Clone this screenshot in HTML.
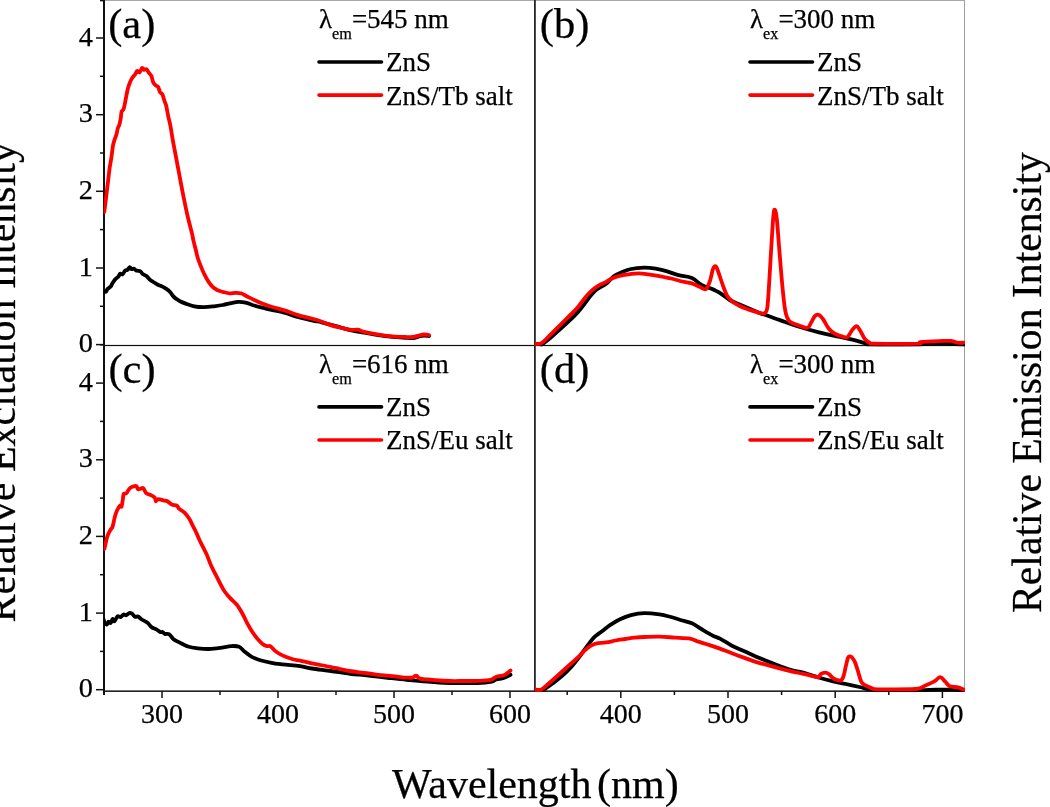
<!DOCTYPE html>
<html><head><meta charset="utf-8"><title>ZnS spectra</title>
<style>html,body{margin:0;padding:0;background:#fff;width:1050px;height:807px;overflow:hidden}</style>
</head><body>
<svg width="1050" height="807" viewBox="0 0 1050 807" style="display:block;will-change:transform"><rect width="1050" height="807" fill="#fff"/><defs><clipPath id="ca"><rect x="103.6" y="0" width="430.6" height="346.5"/></clipPath><clipPath id="cb"><rect x="534.8" y="0" width="430.2" height="346.5"/></clipPath><clipPath id="cc"><rect x="103.6" y="345" width="430.6" height="347"/></clipPath><clipPath id="cd"><rect x="534.8" y="345" width="430.2" height="347"/></clipPath></defs><rect x="104" y="0" width="861" height="1" fill="#a8a8a8"/><rect x="964" y="0" width="1" height="691" fill="#a0a0a0"/><rect x="104" y="344.9" width="861" height="1.2" fill="#111"/><rect x="104" y="690.4" width="861" height="1.5" fill="#111"/><rect x="103" y="0" width="2" height="695" fill="#111"/><rect x="534" y="0" width="1.8" height="691.5" fill="#262626"/><g clip-path="url(#ca)" fill="none" stroke-width="3.8" stroke-linejoin="round" stroke-linecap="round"><path d="M103.8,291.8 C103.9,291.8 104.2,291.6 104.6,291.6 C105.0,291.6 105.6,292.1 106.1,291.6 C106.6,291.2 106.8,289.7 107.6,288.9 C108.4,288.1 109.9,287.5 110.7,286.6 C111.5,285.7 111.5,284.8 112.2,283.6 C113.0,282.4 114.2,280.5 115.2,279.4 C116.2,278.2 117.5,277.6 118.3,276.7 C119.1,275.8 119.5,274.1 120.2,273.7 C120.9,273.3 121.7,274.9 122.5,274.4 C123.3,273.9 124.3,271.4 125.1,270.6 C125.9,269.9 126.6,270.5 127.4,269.9 C128.2,269.3 129.0,267.3 129.7,267.2 C130.4,267.1 130.9,268.9 131.6,269.1 C132.3,269.4 133.1,268.4 133.9,268.7 C134.7,268.9 135.5,270.2 136.6,270.6 C137.7,271.1 139.4,270.8 140.4,271.4 C141.4,272.0 141.7,273.2 142.7,274.0 C143.7,274.8 145.4,275.1 146.5,276.0 C147.6,276.9 148.4,278.4 149.5,279.4 C150.6,280.4 151.9,281.1 153.3,282.0 C154.7,282.9 156.4,283.9 157.9,284.7 C159.4,285.5 161.1,285.9 162.5,286.6 C163.9,287.3 165.0,288.0 166.3,288.9 C167.6,289.8 169.0,290.8 170.1,292.0 C171.2,293.2 172.1,295.0 173.1,296.1 C174.1,297.2 175.0,298.0 176.2,298.8 C177.3,299.6 178.4,300.4 180.0,301.2 C181.6,302.0 183.3,302.7 185.7,303.6 C188.1,304.5 191.3,305.8 194.3,306.4 C197.3,307.0 200.6,307.2 203.8,307.2 C207.0,307.2 210.1,306.8 213.3,306.4 C216.5,306.0 219.9,305.6 222.9,305.0 C225.9,304.4 228.9,303.6 231.4,303.1 C233.9,302.6 235.7,302.0 238.1,301.9 C240.5,301.8 243.3,302.1 245.7,302.6 C248.1,303.1 249.8,304.2 252.4,305.0 C255.0,305.8 258.0,306.6 261.0,307.4 C264.0,308.2 266.6,308.7 270.5,309.6 C274.4,310.5 279.6,311.3 284.3,312.6 C289.0,313.9 293.8,315.9 298.6,317.2 C303.4,318.5 309.0,319.8 312.9,320.7 C316.8,321.6 317.4,321.3 321.7,322.3 C326.0,323.3 333.9,325.5 338.9,326.9 C343.8,328.3 347.2,329.6 351.4,330.5 C355.6,331.4 358.4,331.7 364.0,332.6 C369.6,333.6 378.0,335.3 385.0,336.2 C392.0,337.1 401.3,337.5 406.0,337.8 C410.7,338.1 411.2,338.2 413.3,338.0 C415.4,337.8 416.8,337.0 418.5,336.6 C420.2,336.2 422.1,335.6 423.8,335.5 C425.6,335.4 428.1,335.9 429.0,336.0" stroke="#000"/><path d="M104.3,212.0 C104.7,208.7 105.8,199.6 106.7,192.4 C107.6,185.2 108.8,174.5 109.5,169.0 C110.2,163.5 110.5,163.3 111.1,159.5 C111.7,155.7 112.4,149.3 112.9,146.1 C113.5,142.9 113.8,142.0 114.4,140.1 C115.0,138.2 115.7,136.9 116.3,134.9 C116.9,132.9 117.3,129.9 117.8,128.3 C118.3,126.7 118.7,126.9 119.2,125.3 C119.7,123.7 120.3,120.8 120.7,118.6 C121.1,116.4 121.1,113.4 121.5,111.9 C121.9,110.4 122.8,110.7 123.3,109.7 C123.8,108.7 124.0,107.7 124.4,106.0 C124.8,104.3 125.0,102.7 125.6,99.8 C126.2,96.9 127.1,91.4 127.9,88.4 C128.7,85.4 129.6,83.3 130.3,81.6 C131.0,79.8 131.4,79.2 132.2,77.9 C133.0,76.7 134.5,75.2 135.3,74.1 C136.1,72.9 136.4,71.3 137.1,71.0 C137.8,70.7 138.8,72.8 139.6,72.3 C140.4,71.8 141.4,68.4 142.1,68.0 C142.8,67.6 143.3,69.6 144.0,69.8 C144.7,70.0 145.6,68.7 146.4,69.2 C147.2,69.7 148.1,71.8 148.9,72.9 C149.7,74.0 150.7,74.5 151.4,76.0 C152.1,77.5 152.5,80.7 153.2,82.2 C153.9,83.8 154.9,84.5 155.7,85.3 C156.5,86.1 157.5,86.0 158.2,87.1 C158.9,88.2 159.3,90.8 160.0,92.1 C160.7,93.3 161.8,93.1 162.5,94.6 C163.2,96.0 163.8,98.9 164.4,100.8 C165.0,102.7 165.6,103.2 166.2,105.7 C166.8,108.2 167.4,112.1 168.1,115.6 C168.8,119.1 169.9,123.1 170.6,126.8 C171.3,130.5 171.8,134.3 172.4,137.9 C173.0,141.5 173.2,142.4 174.3,148.1 C175.4,153.8 177.3,164.0 178.8,171.9 C180.3,179.8 181.8,188.3 183.3,195.7 C184.8,203.1 186.2,210.1 187.7,216.5 C189.2,222.9 191.3,230.5 192.2,234.4 C193.1,238.3 192.7,237.5 193.3,240.0 C193.9,242.5 194.9,246.3 195.7,249.5 C196.5,252.7 197.1,256.0 198.1,259.0 C199.1,262.0 200.3,264.9 201.4,267.6 C202.5,270.3 203.6,272.8 204.8,275.2 C206.0,277.6 207.3,280.0 208.6,281.9 C209.9,283.8 211.0,285.3 212.4,286.7 C213.8,288.1 215.3,289.1 217.1,290.0 C218.8,290.9 220.8,291.3 222.9,291.9 C225.0,292.4 227.4,293.1 229.5,293.3 C231.6,293.5 233.3,292.9 235.2,292.9 C237.1,292.9 239.1,292.8 241.0,293.3 C242.9,293.9 244.5,295.1 246.7,296.2 C248.9,297.3 251.6,298.7 254.3,300.0 C257.0,301.3 260.0,302.7 262.9,303.8 C265.8,304.9 267.8,305.6 271.4,306.7 C275.0,307.8 279.7,308.9 284.3,310.4 C288.9,311.8 293.4,313.8 298.9,315.4 C304.4,317.0 311.8,318.4 317.1,320.0 C322.4,321.6 326.5,323.8 330.5,325.1 C334.5,326.4 337.5,327.0 341.0,327.8 C344.5,328.6 348.6,329.6 351.4,329.9 C354.2,330.2 355.6,329.4 357.7,329.7 C359.8,330.0 361.2,331.1 364.0,331.8 C366.8,332.5 371.0,333.3 374.5,333.9 C378.0,334.5 381.5,335.2 385.0,335.6 C388.5,336.1 392.0,336.4 395.5,336.6 C399.0,336.8 403.0,336.9 406.0,337.0 C409.0,337.1 411.2,337.2 413.3,337.0 C415.4,336.8 416.8,336.0 418.5,335.6 C420.2,335.2 422.1,334.6 423.8,334.5 C425.6,334.4 428.1,335.0 429.0,335.1" stroke="#ff0000"/></g><g clip-path="url(#cb)" fill="none" stroke-width="3.8" stroke-linejoin="round" stroke-linecap="round"><path d="M541.4,344.8 C542.7,343.8 546.1,341.4 549.0,339.0 C551.9,336.6 555.4,333.4 558.6,330.5 C561.8,327.6 564.9,324.9 568.1,321.9 C571.3,318.9 574.8,315.6 577.6,312.4 C580.5,309.2 583.0,305.8 585.2,302.9 C587.4,300.0 589.1,297.4 591.0,295.2 C592.9,293.0 594.2,291.4 596.7,289.5 C599.2,287.6 603.4,286.0 606.2,283.8 C609.1,281.6 611.3,278.1 613.8,276.2 C616.3,274.3 618.5,273.6 621.4,272.4 C624.3,271.2 627.2,269.8 631.0,269.0 C634.8,268.2 640.2,267.7 644.3,267.6 C648.4,267.5 651.9,268.0 655.7,268.6 C659.5,269.2 663.3,270.3 667.1,271.4 C670.9,272.5 674.5,274.1 678.6,275.2 C682.7,276.3 688.1,276.5 691.9,278.1 C695.7,279.7 698.2,283.1 701.4,284.8 C704.6,286.6 707.8,287.2 711.0,288.6 C714.2,290.0 717.4,291.4 720.5,293.3 C723.6,295.2 726.5,298.1 729.7,300.0 C732.9,301.9 734.7,302.5 739.7,304.6 C744.7,306.8 752.9,310.3 759.5,312.9 C766.1,315.4 772.7,317.6 779.3,319.9 C785.9,322.2 792.5,324.7 799.1,326.8 C805.7,328.9 812.4,330.7 819.0,332.3 C825.6,333.9 833.2,335.5 838.8,336.7 C844.4,337.9 848.1,338.5 852.4,339.6 C856.7,340.7 861.7,342.3 864.8,343.1 C867.9,343.9 862.1,344.4 871.0,344.6 C879.9,344.9 909.5,344.7 918.0,344.6 C926.5,344.5 917.2,344.2 921.7,344.0 C926.2,343.8 939.2,343.2 945.2,343.3 C951.2,343.4 954.5,344.1 957.6,344.3 C960.7,344.5 962.8,344.6 963.8,344.6" stroke="#000"/><path d="M534.8,343.8 C535.9,343.7 539.0,344.5 541.4,343.2 C543.8,341.9 546.1,338.9 549.0,336.2 C551.9,333.4 555.4,329.9 558.6,326.7 C561.8,323.5 565.1,320.1 568.1,317.1 C571.1,314.1 574.2,311.5 576.7,308.6 C579.2,305.8 581.2,302.6 583.3,300.0 C585.3,297.4 587.1,295.3 589.0,293.3 C590.9,291.3 592.9,289.5 594.8,288.0 C596.7,286.5 598.6,285.4 600.5,284.4 C602.4,283.4 604.3,282.9 606.2,281.9 C608.1,280.9 609.7,279.5 611.9,278.5 C614.1,277.5 616.6,276.5 619.5,275.8 C622.4,275.1 625.8,274.7 629.0,274.3 C632.2,273.9 635.4,273.3 638.6,273.3 C641.8,273.3 644.6,273.8 648.1,274.3 C651.6,274.8 655.7,275.5 659.5,276.2 C663.3,276.9 667.2,277.6 671.0,278.5 C674.8,279.4 678.9,280.7 682.4,281.5 C685.9,282.3 689.0,282.5 691.9,283.4 C694.8,284.3 697.7,286.2 700.0,287.1 C702.3,288.1 704.2,290.1 705.9,289.1 C707.5,288.1 708.7,284.5 709.9,281.2 C711.1,277.9 711.9,271.8 712.9,269.3 C713.9,266.8 714.9,265.6 715.9,266.3 C716.9,267.0 717.6,270.2 718.8,273.3 C719.9,276.4 721.5,281.6 722.8,285.2 C724.1,288.8 725.3,292.5 726.8,295.1 C728.3,297.7 729.6,299.2 731.7,301.0 C733.9,302.8 736.7,304.5 739.7,306.0 C742.7,307.5 746.6,308.8 749.6,309.9 C752.6,310.9 755.0,311.7 757.5,312.3 C760.0,312.9 762.8,314.2 764.4,313.3 C766.0,312.4 766.6,312.7 767.4,307.0 C768.2,301.3 768.7,289.4 769.4,279.2 C770.1,268.9 770.7,256.1 771.4,245.5 C772.1,234.9 772.8,221.8 773.4,215.8 C774.0,209.9 774.3,209.2 774.9,209.8 C775.5,210.5 776.2,213.1 776.9,219.7 C777.6,226.3 778.4,238.6 779.3,249.5 C780.2,260.4 781.3,275.0 782.3,285.2 C783.3,295.4 784.1,304.9 785.3,310.9 C786.4,316.8 787.2,318.6 789.2,320.9 C791.2,323.2 794.1,323.6 797.1,324.8 C800.1,326.0 804.8,328.1 807.1,327.8 C809.4,327.5 809.7,324.8 811.0,322.8 C812.3,320.8 813.7,317.2 815.0,315.9 C816.3,314.6 817.7,314.4 819.0,314.9 C820.3,315.4 821.2,316.6 822.9,318.9 C824.5,321.2 826.9,326.3 828.9,328.8 C830.9,331.3 832.5,332.4 834.8,333.7 C837.1,335.0 840.6,336.2 842.7,336.7 C844.9,337.2 846.1,337.9 847.7,336.7 C849.3,335.5 850.9,331.4 852.4,329.7 C853.9,327.9 855.4,326.0 856.7,326.2 C858.0,326.4 859.0,328.9 860.4,331.0 C861.8,333.1 863.2,337.1 864.8,339.0 C866.3,340.9 868.1,341.9 869.7,342.7 C871.4,343.5 866.7,343.5 874.7,343.6 C882.8,343.8 910.4,343.9 918.0,343.6 C925.6,343.4 917.0,342.5 920.5,342.1 C924.0,341.7 933.9,341.3 939.0,341.1 C944.1,340.9 948.3,340.6 951.4,340.9 C954.5,341.2 955.5,342.4 957.6,342.7 C959.7,343.0 962.8,342.7 963.8,342.7" stroke="#ff0000"/></g><g clip-path="url(#cc)" fill="none" stroke-width="3.8" stroke-linejoin="round" stroke-linecap="round"><path d="M103.8,619.8 C103.9,620.3 104.1,622.1 104.6,622.9 C105.1,623.7 106.3,624.6 106.9,624.4 C107.5,624.2 107.8,622.0 108.4,621.7 C109.0,621.5 110.0,623.4 110.7,622.9 C111.4,622.4 112.0,619.3 112.6,619.0 C113.2,618.7 113.7,621.7 114.5,621.3 C115.3,620.9 116.5,617.1 117.5,616.4 C118.5,615.7 119.6,617.4 120.6,617.1 C121.6,616.8 122.6,614.8 123.6,614.5 C124.5,614.2 125.3,615.5 126.3,615.2 C127.2,615.0 128.4,613.2 129.3,613.0 C130.2,612.8 131.1,613.1 132.0,613.7 C132.9,614.3 134.0,616.3 135.0,616.8 C136.0,617.2 137.1,616.0 138.1,616.4 C139.1,616.8 139.8,618.1 141.1,619.0 C142.4,619.9 144.4,620.9 145.7,621.7 C147.0,622.5 147.8,623.0 148.8,624.0 C149.8,625.0 150.5,626.5 151.8,627.4 C153.1,628.3 155.0,628.5 156.4,629.3 C157.8,630.1 159.2,631.5 160.2,632.0 C161.2,632.5 161.7,631.7 162.5,632.0 C163.3,632.3 163.7,633.5 164.8,633.9 C165.9,634.3 167.9,633.5 169.3,634.3 C170.7,635.1 171.9,637.8 173.1,638.9 C174.2,640.0 175.0,640.2 176.2,640.8 C177.3,641.4 177.9,641.7 180.0,642.7 C182.1,643.7 185.9,645.9 188.9,646.8 C191.9,647.7 194.5,647.9 197.8,648.3 C201.2,648.7 205.3,649.1 209.0,649.0 C212.7,648.9 216.5,648.4 220.2,647.9 C223.9,647.4 228.2,646.3 231.3,646.1 C234.5,645.9 236.9,645.9 239.1,646.8 C241.3,647.7 242.6,650.1 244.7,651.7 C246.8,653.3 248.8,655.2 251.4,656.6 C254.0,658.0 256.9,659.2 260.3,660.2 C263.7,661.2 267.8,662.1 271.5,662.8 C275.2,663.5 277.9,663.8 282.6,664.4 C287.4,665.0 295.1,665.5 300.0,666.2 C304.9,666.9 306.7,667.7 311.9,668.5 C317.1,669.3 324.6,670.1 331.0,671.0 C337.4,671.9 343.7,673.0 350.0,673.8 C356.3,674.5 362.3,674.8 368.6,675.5 C374.9,676.2 381.2,677.1 387.6,677.8 C394.0,678.5 400.0,679.2 406.7,679.8 C413.4,680.4 420.3,681.0 427.6,681.5 C434.9,682.0 442.2,682.8 450.5,683.0 C458.8,683.2 470.4,683.2 477.1,683.0 C483.8,682.8 487.3,682.6 490.5,682.0 C493.7,681.4 494.0,680.2 496.2,679.5 C498.4,678.8 501.4,678.8 503.8,678.0 C506.2,677.2 509.4,675.3 510.5,674.8" stroke="#000"/><path d="M104.5,548.5 C104.5,548.4 104.2,549.8 104.7,547.7 C105.2,545.6 106.4,539.1 107.4,536.1 C108.4,533.1 109.6,531.4 110.5,529.8 C111.4,528.2 111.9,528.7 112.6,526.6 C113.3,524.5 114.1,519.7 114.8,517.1 C115.5,514.5 116.0,512.7 116.9,510.8 C117.8,508.9 119.2,506.3 120.0,505.6 C120.8,504.9 121.1,507.5 121.6,506.6 C122.0,505.7 122.3,502.4 122.7,500.3 C123.1,498.2 123.1,495.1 123.7,494.0 C124.3,492.9 125.4,494.2 126.3,493.4 C127.2,492.6 128.1,490.2 129.0,489.2 C129.9,488.1 130.8,487.6 131.6,487.1 C132.4,486.6 133.2,486.5 134.0,486.3 C134.8,486.1 135.8,485.6 136.4,486.1 C137.1,486.6 137.2,488.8 137.9,489.2 C138.6,489.6 139.7,488.9 140.6,488.7 C141.5,488.5 142.2,487.4 143.2,488.2 C144.2,489.0 145.2,492.3 146.4,493.4 C147.6,494.5 149.2,494.3 150.6,495.0 C152.0,495.7 153.9,496.6 154.8,497.7 C155.7,498.8 155.3,501.1 155.8,501.3 C156.3,501.6 156.8,499.4 158.0,499.2 C159.2,499.0 161.6,499.9 163.2,500.3 C164.8,500.7 166.0,500.6 167.4,501.3 C168.8,502.0 170.1,503.8 171.7,504.5 C173.3,505.2 175.7,504.9 176.9,505.6 C178.1,506.3 177.8,507.6 179.0,508.7 C180.2,509.8 182.5,510.6 184.3,512.4 C186.1,514.2 188.2,517.1 189.6,519.3 C191.0,521.5 191.6,523.5 192.7,525.6 C193.8,527.7 194.8,529.5 195.9,531.9 C197.1,534.3 198.5,538.0 199.6,540.3 C200.7,542.6 201.1,543.3 202.3,545.7 C203.5,548.1 205.3,551.4 206.8,554.7 C208.3,558.1 209.7,562.5 211.2,565.8 C212.7,569.1 214.2,571.7 215.7,574.7 C217.2,577.7 218.7,580.8 220.2,583.6 C221.7,586.4 222.9,589.1 224.6,591.5 C226.3,593.9 228.1,595.9 230.2,598.1 C232.2,600.3 234.8,602.2 236.9,604.8 C239.0,607.4 240.8,610.8 242.5,613.8 C244.2,616.8 245.4,619.9 246.9,622.7 C248.4,625.5 249.7,627.9 251.4,630.5 C253.1,633.1 255.2,636.1 257.0,638.3 C258.9,640.5 260.8,642.6 262.5,643.9 C264.2,645.2 265.7,645.7 267.0,646.1 C268.3,646.5 269.0,645.4 270.3,646.1 C271.6,646.9 273.1,649.2 274.8,650.6 C276.5,652.0 278.3,653.3 280.4,654.4 C282.4,655.5 284.9,656.4 287.1,657.3 C289.3,658.1 291.7,659.0 293.8,659.5 C295.9,660.0 297.0,660.0 300.0,660.6 C303.0,661.2 306.7,662.2 311.9,663.3 C317.1,664.4 326.3,666.1 331.0,667.1 C335.7,668.1 336.9,668.4 340.0,669.0 C343.1,669.6 346.3,670.5 349.5,671.0 C352.7,671.5 355.8,671.9 359.0,672.3 C362.2,672.7 365.4,673.0 368.6,673.4 C371.8,673.8 374.9,674.4 378.1,674.8 C381.3,675.2 384.4,675.4 387.6,675.7 C390.8,676.0 393.9,676.4 397.1,676.7 C400.3,677.0 404.1,677.5 406.7,677.6 C409.2,677.8 410.8,677.9 412.4,677.6 C414.0,677.3 414.9,675.5 416.2,675.7 C417.5,675.9 418.1,678.0 420.0,678.6 C421.9,679.2 424.4,679.2 427.6,679.5 C430.8,679.8 435.2,680.2 439.0,680.5 C442.8,680.8 446.4,680.9 450.5,681.0 C454.6,681.1 459.4,681.0 463.8,681.0 C468.2,681.0 472.7,681.1 477.1,680.9 C481.6,680.7 487.3,680.6 490.5,679.9 C493.7,679.2 494.0,677.5 496.2,676.7 C498.4,675.9 501.9,675.9 503.8,675.3 C505.7,674.7 506.5,673.7 507.6,672.9 C508.7,672.1 510.0,670.8 510.5,670.4" stroke="#ff0000"/></g><g clip-path="url(#cd)" fill="none" stroke-width="3.8" stroke-linejoin="round" stroke-linecap="round"><path d="M543.3,690.0 C544.9,688.9 549.7,685.7 552.9,683.3 C556.1,680.9 559.2,678.6 562.4,675.7 C565.6,672.9 569.0,669.4 571.9,666.2 C574.8,663.0 577.0,660.0 579.5,656.7 C582.0,653.4 584.6,649.5 587.1,646.2 C589.6,642.9 592.2,639.2 594.8,636.7 C597.3,634.2 599.9,632.9 602.4,631.0 C604.9,629.1 607.1,627.1 610.0,625.2 C612.9,623.3 616.0,621.2 619.5,619.5 C623.0,617.8 626.9,616.1 631.0,615.1 C635.1,614.1 639.5,613.3 644.3,613.2 C649.0,613.1 655.0,613.8 659.5,614.4 C664.0,615.0 667.2,616.0 671.0,617.0 C674.8,618.0 678.9,619.5 682.4,620.5 C685.9,621.5 688.7,621.9 691.9,623.3 C695.1,624.7 697.9,626.9 701.4,629.0 C704.9,631.1 709.8,634.1 712.9,635.7 C716.0,637.3 716.8,636.9 720.0,638.6 C723.2,640.3 727.9,643.6 731.9,645.7 C735.9,647.8 739.8,649.2 743.8,651.0 C747.8,652.8 751.7,654.7 755.7,656.4 C759.7,658.1 763.6,659.6 767.6,661.2 C771.6,662.8 775.5,664.5 779.5,666.0 C783.5,667.5 787.1,668.8 791.4,670.0 C795.6,671.2 800.5,672.0 805.0,673.2 C809.5,674.5 814.1,676.2 818.6,677.5 C823.1,678.8 827.8,680.1 832.3,681.2 C836.8,682.3 841.4,683.0 845.9,684.0 C850.4,685.0 855.5,686.1 859.5,687.0 C863.5,687.9 867.0,689.1 869.8,689.6 C872.5,690.1 873.2,689.9 876.0,690.0 C878.8,690.1 879.4,690.2 886.7,690.2 C894.0,690.2 912.0,690.3 920.0,690.2 C928.0,690.1 930.0,689.8 935.0,689.7 C940.0,689.6 945.1,689.6 950.0,689.7 C954.9,689.8 962.1,690.1 964.5,690.2" stroke="#000"/><path d="M534.8,689.4 C535.9,689.4 539.0,690.4 541.4,689.4 C543.8,688.4 546.1,685.7 549.0,683.3 C551.9,680.9 555.4,677.6 558.6,674.8 C561.8,671.9 564.9,669.1 568.1,666.2 C571.3,663.3 574.8,660.3 577.6,657.6 C580.5,654.9 583.0,652.0 585.2,650.0 C587.4,648.0 589.1,646.7 591.0,645.6 C592.9,644.5 594.2,643.8 596.7,643.3 C599.2,642.8 603.0,642.9 606.2,642.4 C609.4,641.9 612.5,641.1 615.7,640.5 C618.9,639.9 622.0,639.5 625.2,639.0 C628.4,638.5 631.6,637.9 634.8,637.6 C638.0,637.3 640.2,637.1 644.3,637.0 C648.4,636.9 654.4,636.6 659.5,636.7 C664.6,636.8 669.7,637.3 674.8,637.6 C679.9,637.9 686.2,638.0 690.0,638.6 C693.8,639.2 694.8,640.5 697.6,641.4 C700.5,642.3 703.6,643.2 707.1,644.3 C710.6,645.4 714.5,646.6 718.6,648.1 C722.7,649.6 727.7,651.7 731.9,653.3 C736.1,654.9 739.8,656.2 743.8,657.6 C747.8,659.0 751.7,660.6 755.7,661.9 C759.7,663.2 763.6,664.1 767.6,665.2 C771.6,666.3 775.5,667.3 779.5,668.3 C783.5,669.3 787.4,670.5 791.4,671.4 C795.4,672.3 799.9,673.1 803.3,673.8 C806.7,674.5 809.2,675.2 811.8,675.8 C814.3,676.4 817.1,677.5 818.6,677.2 C820.1,676.9 819.6,674.9 820.7,674.1 C821.9,673.3 824.1,672.6 825.5,672.6 C826.9,672.6 827.8,673.3 828.9,674.1 C830.0,674.9 831.2,676.6 832.3,677.5 C833.4,678.4 834.3,679.0 835.7,679.5 C837.1,680.0 839.4,680.8 840.5,680.6 C841.6,680.4 841.9,679.5 842.5,678.5 C843.1,677.5 843.4,676.6 844.0,674.5 C844.6,672.4 845.2,668.7 845.9,665.9 C846.6,663.1 847.3,659.3 848.0,657.7 C848.7,656.1 849.5,656.3 850.3,656.4 C851.1,656.5 851.9,657.3 852.7,658.4 C853.6,659.5 854.5,660.9 855.4,663.2 C856.3,665.5 857.3,669.0 858.2,672.0 C859.1,675.0 860.0,678.9 860.9,680.9 C861.8,682.9 862.5,683.4 863.6,684.3 C864.7,685.2 866.1,685.7 867.7,686.4 C869.3,687.1 871.5,688.2 873.2,688.7 C874.9,689.2 871.0,689.2 878.0,689.3 C885.0,689.3 907.4,689.6 915.2,689.0 C923.0,688.4 921.6,687.0 924.8,685.7 C928.0,684.4 931.7,682.8 934.3,681.4 C936.9,680.0 938.4,677.1 940.2,677.1 C942.0,677.1 943.4,679.9 945.0,681.4 C946.6,682.9 947.6,685.2 949.8,686.2 C952.0,687.2 955.7,686.8 958.1,687.4 C960.5,688.0 963.0,689.4 964.0,689.8" stroke="#ff0000"/></g><g stroke="#111" stroke-width="1.5"><line x1="96" y1="344.6" x2="104" y2="344.6"/><line x1="100" y1="306.3" x2="104" y2="306.3"/><line x1="96" y1="268.0" x2="104" y2="268.0"/><line x1="100" y1="229.6" x2="104" y2="229.6"/><line x1="96" y1="191.3" x2="104" y2="191.3"/><line x1="100" y1="153.0" x2="104" y2="153.0"/><line x1="96" y1="114.7" x2="104" y2="114.7"/><line x1="100" y1="76.3" x2="104" y2="76.3"/><line x1="96" y1="38.0" x2="104" y2="38.0"/><line x1="100" y1="0.6" x2="104" y2="0.6"/><line x1="96" y1="689.7" x2="104" y2="689.7"/><line x1="100" y1="651.4" x2="104" y2="651.4"/><line x1="96" y1="613.1" x2="104" y2="613.1"/><line x1="100" y1="574.7" x2="104" y2="574.7"/><line x1="96" y1="536.4" x2="104" y2="536.4"/><line x1="100" y1="498.1" x2="104" y2="498.1"/><line x1="96" y1="459.8" x2="104" y2="459.8"/><line x1="100" y1="421.4" x2="104" y2="421.4"/><line x1="96" y1="383.1" x2="104" y2="383.1"/><line x1="100" y1="344.8" x2="104" y2="344.8"/><line x1="104.0" y1="691" x2="104.0" y2="695"/><line x1="162.0" y1="691" x2="162.0" y2="698"/><line x1="220.0" y1="691" x2="220.0" y2="695"/><line x1="278.0" y1="691" x2="278.0" y2="698"/><line x1="336.0" y1="691" x2="336.0" y2="695"/><line x1="394.0" y1="691" x2="394.0" y2="698"/><line x1="452.0" y1="691" x2="452.0" y2="695"/><line x1="510.0" y1="691" x2="510.0" y2="698"/><line x1="567.2" y1="691" x2="567.2" y2="695"/><line x1="620.8" y1="691" x2="620.8" y2="698"/><line x1="674.4" y1="691" x2="674.4" y2="695"/><line x1="728.0" y1="691" x2="728.0" y2="698"/><line x1="781.6" y1="691" x2="781.6" y2="695"/><line x1="835.2" y1="691" x2="835.2" y2="698"/><line x1="888.8" y1="691" x2="888.8" y2="695"/><line x1="942.4" y1="691" x2="942.4" y2="698"/></g><g font-family='"Liberation Serif", serif' fill='#000' stroke='#000' stroke-width='0.25'><text x="93" y="352.2" font-size="28.3" text-anchor="end">0</text><text x="93" y="275.6" font-size="28.3" text-anchor="end">1</text><text x="93" y="198.9" font-size="28.3" text-anchor="end">2</text><text x="93" y="122.2" font-size="28.3" text-anchor="end">3</text><text x="93" y="45.6" font-size="28.3" text-anchor="end">4</text><text x="93" y="697.3" font-size="28.3" text-anchor="end">0</text><text x="93" y="620.7" font-size="28.3" text-anchor="end">1</text><text x="93" y="544.0" font-size="28.3" text-anchor="end">2</text><text x="93" y="467.4" font-size="28.3" text-anchor="end">3</text><text x="93" y="390.7" font-size="28.3" text-anchor="end">4</text><text x="162.0" y="723.2" font-size="28" text-anchor="middle">300</text><text x="278.0" y="723.2" font-size="28" text-anchor="middle">400</text><text x="394.0" y="723.2" font-size="28" text-anchor="middle">500</text><text x="510.0" y="723.2" font-size="28" text-anchor="middle">600</text><text x="620.8" y="723.2" font-size="28" text-anchor="middle">400</text><text x="728.0" y="723.2" font-size="28" text-anchor="middle">500</text><text x="835.2" y="723.2" font-size="28" text-anchor="middle">600</text><text x="942.4" y="723.2" font-size="28" text-anchor="middle">700</text><text x="108.2" y="37.6" font-size="42.5">(a)</text><text x="539.8" y="37.6" font-size="42.5">(b)</text><text x="108.4" y="383.1" font-size="42.5">(c)</text><text x="539.8" y="383.1" font-size="42.5">(d)</text><text x="319" y="28.2" font-size="27">λ<tspan font-size="16.2" dy="10.8">em</tspan><tspan dy="-10.8">=545 nm</tspan></text><line x1="319" y1="62.0" x2="381.5" y2="62.0" stroke="#000" stroke-width="3.6" stroke-linecap="round"/><line x1="319" y1="95.1" x2="381.5" y2="95.1" stroke="#ff0000" stroke-width="3.6" stroke-linecap="round"/><text x="386" y="71.0" font-size="27">ZnS</text><text x="386" y="104.5" font-size="27">ZnS/Tb salt</text><text x="750" y="28.2" font-size="27">λ<tspan font-size="16.2" dy="10.8">ex</tspan><tspan dy="-10.8">=300 nm</tspan></text><line x1="750" y1="62.0" x2="812.5" y2="62.0" stroke="#000" stroke-width="3.6" stroke-linecap="round"/><line x1="750" y1="95.1" x2="812.5" y2="95.1" stroke="#ff0000" stroke-width="3.6" stroke-linecap="round"/><text x="817" y="71.0" font-size="27">ZnS</text><text x="817" y="104.5" font-size="27">ZnS/Tb salt</text><text x="319" y="373.1" font-size="27">λ<tspan font-size="16.2" dy="10.8">em</tspan><tspan dy="-10.8">=616 nm</tspan></text><line x1="319" y1="406.9" x2="381.5" y2="406.9" stroke="#000" stroke-width="3.6" stroke-linecap="round"/><line x1="319" y1="440.0" x2="381.5" y2="440.0" stroke="#ff0000" stroke-width="3.6" stroke-linecap="round"/><text x="386" y="415.9" font-size="27">ZnS</text><text x="386" y="449.4" font-size="27">ZnS/Eu salt</text><text x="750" y="373.1" font-size="27">λ<tspan font-size="16.2" dy="10.8">ex</tspan><tspan dy="-10.8">=300 nm</tspan></text><line x1="750" y1="406.9" x2="812.5" y2="406.9" stroke="#000" stroke-width="3.6" stroke-linecap="round"/><line x1="750" y1="440.0" x2="812.5" y2="440.0" stroke="#ff0000" stroke-width="3.6" stroke-linecap="round"/><text x="817" y="415.9" font-size="27">ZnS</text><text x="817" y="449.4" font-size="27">ZnS/Eu salt</text><text x="392" y="798.2" font-size="42" word-spacing="-5">Wavelength (nm)</text><text transform="translate(14.5,622.5) rotate(-90)" font-size="42">Relative Excitation Intensity</text><text transform="translate(1041.2,613) rotate(-90)" font-size="41.7">Relative Emission Intensity</text></g></svg>
</body></html>
